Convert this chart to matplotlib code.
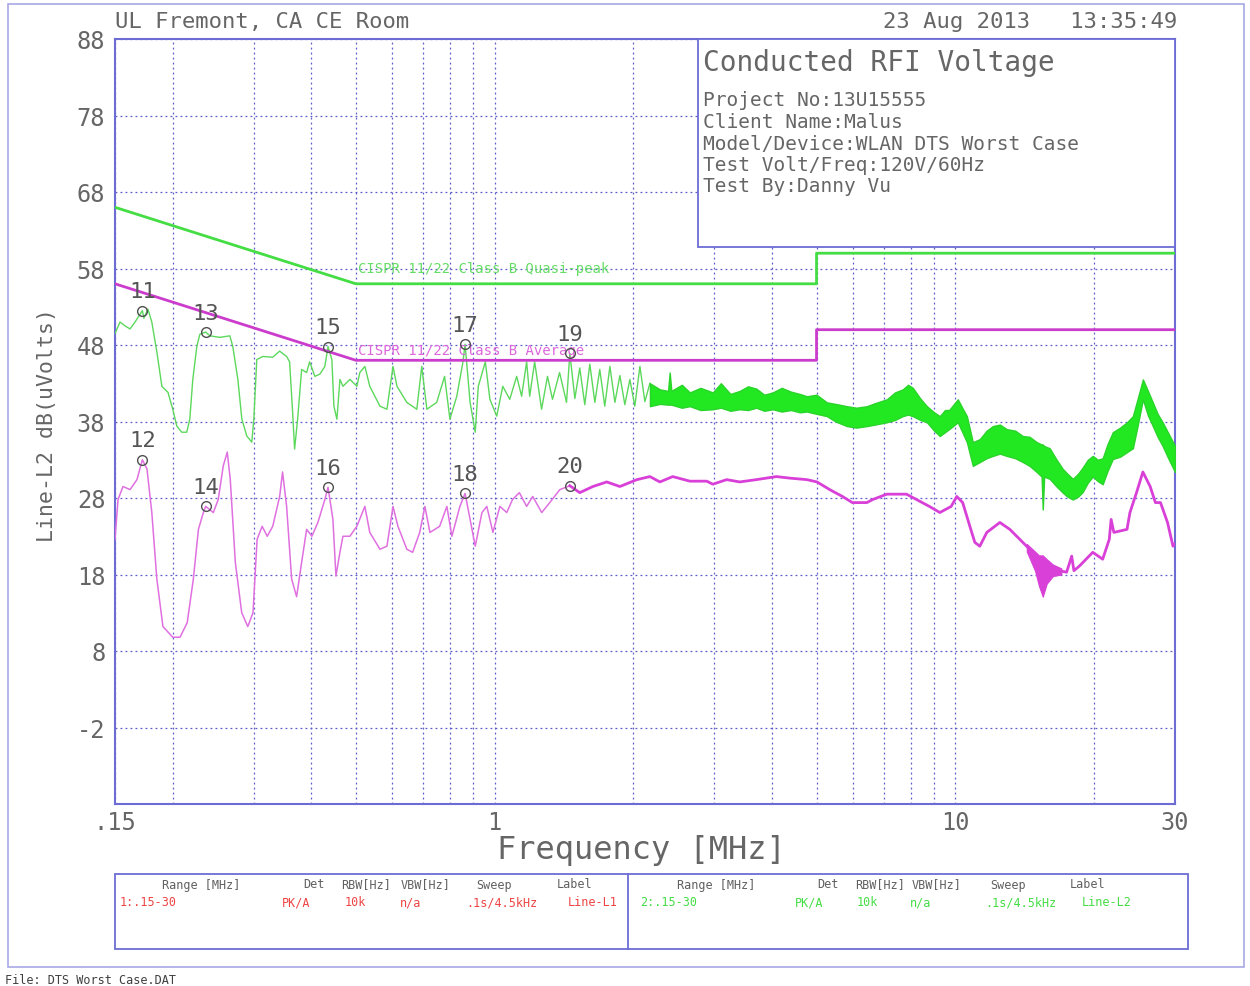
import matplotlib
matplotlib.use("Agg")
import matplotlib.pyplot as plt
from matplotlib.patches import Rectangle
from matplotlib.lines import Line2D

# ---------------------------------------------------------------- data
# CISPR 11/22 Class B limits (MHz, dBuV)
qp_f = [0.15, 0.5, 5.0, 5.0, 30.0]
qp_db = [66.0, 56.0, 56.0, 60.0, 60.0]
av_lim_f = [0.15, 0.5, 5.0, 5.0, 30.0]
av_lim_db = [56.0, 46.0, 46.0, 50.0, 50.0]

# Peak detector trace, Line-L2 (below 2.2 MHz)
pk_f = [0.150, 0.1538, 0.1577, 0.1617, 0.1658, 0.172, 0.1733, 0.1768, 0.1803,
        0.1849, 0.1896, 0.1955, 0.2002, 0.2043, 0.2094, 0.2147, 0.2180, 0.2213,
        0.2258, 0.2292, 0.236, 0.2410, 0.2533, 0.2663, 0.2703, 0.2772, 0.2828,
        0.2899, 0.2972, 0.3002, 0.3047, 0.3140, 0.3300, 0.3416, 0.3537, 0.3590,
        0.3645, 0.3681, 0.3737, 0.3813, 0.3909, 0.3968, 0.4074, 0.4177, 0.4282,
        0.435, 0.4435, 0.4480, 0.4548, 0.4617, 0.4687, 0.4853, 0.5025, 0.510,
        0.523, 0.536, 0.564, 0.584, 0.602, 0.614, 0.645, 0.678, 0.695, 0.713,
        0.749, 0.779, 0.800, 0.828, 0.854, 0.863, 0.885, 0.908, 0.922, 0.955,
        0.977, 1.011, 1.042, 1.079, 1.117, 1.145, 1.174, 1.192, 1.222, 1.265,
        1.303, 1.336, 1.384, 1.433, 1.457, 1.494, 1.531, 1.570, 1.610, 1.651,
        1.692, 1.735, 1.780, 1.825, 1.871, 1.918, 1.967, 2.016, 2.068, 2.120,
        2.174]
pk_db = [49.5, 51.0, 50.5, 50.1, 51.0, 52.5, 51.5, 52.7, 51.0,
         47.1, 42.6, 41.8, 39.6, 37.4, 36.6, 36.6, 38.3, 43.5,
         47.8, 49.4, 49.7, 49.2, 49.0, 49.2, 47.8, 43.5, 38.3,
         36.1, 35.3, 38.3, 46.1, 46.5, 46.4, 47.2, 46.5, 45.8,
         39.2, 34.4, 38.3, 44.8, 44.4, 45.8, 43.9, 44.2, 45.2,
         47.8, 46.1, 40.0, 38.3, 43.5, 42.6, 43.5, 42.6, 44.4,
         45.2, 42.6, 40.0, 39.6, 45.2, 42.6, 40.5, 39.6, 45.2, 39.6,
         40.5, 43.9, 38.3, 41.3, 45.8, 48.1, 40.5, 36.6, 42.6, 45.8,
         40.9, 38.7, 42.6, 40.9, 43.9, 41.3, 45.8, 41.3, 45.8, 39.6,
         43.9, 40.9, 44.4, 40.5, 46.9, 41.0, 45.0, 40.2, 45.5, 40.5,
         44.8, 40.0, 45.2, 40.5, 44.0, 40.2, 43.5, 40.0, 45.2, 40.6,
         43.0]

# Peak trace above 2.2 MHz: dense sweep band (upper / lower edge)
band_f = [2.174, 2.285, 2.38, 2.40, 2.42, 2.55, 2.654, 2.80, 2.977, 3.10,
          3.25, 3.407, 3.55, 3.70, 3.85, 4.018, 4.20, 4.40, 4.60, 4.764,
          5.0, 5.265, 5.5, 5.818, 6.1, 6.43, 6.7, 7.105, 7.4, 7.694,
          7.9, 8.09, 8.4, 8.68, 9.0, 9.26, 9.5, 9.7, 10.13, 10.4,
          10.6, 10.92, 11.31, 11.7, 12.07, 12.5, 12.94, 13.5, 14.02, 14.5,
          15.03, 15.40, 15.49, 15.60, 16.04, 16.6, 17.12, 17.5, 18.0, 18.5,
          18.92, 19.4, 19.89, 20.4, 20.9, 21.4, 21.98, 22.8, 23.6, 24.3,
          24.9, 25.55, 26.2, 26.85, 27.5, 28.2, 29.0, 30.0]
band_hi = [43.0, 42.2, 42.0, 44.4, 42.0, 42.8, 41.8, 42.4, 41.8, 43.0,
           41.6, 42.0, 42.6, 42.3, 41.5, 41.8, 42.4, 41.9, 41.6, 41.3,
           41.5, 40.5, 40.3, 40.0, 39.8, 40.0, 40.4, 40.9, 41.8, 42.2,
           42.8, 42.4, 41.0, 40.0, 39.2, 38.7, 39.5, 39.5, 40.9, 39.6,
           38.7, 35.3, 35.7, 36.8, 37.4, 37.6, 37.0, 36.8, 36.1, 36.0,
           35.3, 35.0, 35.0, 34.8, 34.5, 33.0, 31.8, 31.2, 30.5, 31.2,
           32.0, 33.0, 33.5, 33.0, 33.2, 35.0, 36.6, 37.2, 37.9, 38.7,
           41.0, 43.5, 42.0, 40.5, 39.0, 37.9, 36.5, 34.8]
band_lo = [40.0, 40.3, 40.2, 40.2, 40.2, 39.8, 40.0, 39.5, 39.6, 39.8,
           39.4, 39.6, 39.5, 39.8, 39.4, 39.6, 39.3, 39.5, 39.2, 39.3,
           39.0, 38.7, 38.0, 37.4, 37.2, 37.4, 37.6, 37.9, 38.2, 38.7,
           38.9, 38.7, 38.2, 37.9, 36.8, 36.1, 36.6, 37.0, 37.9, 36.4,
           35.3, 32.2, 32.7, 33.2, 33.5, 33.8, 33.5, 33.2, 32.7, 32.2,
           31.4, 30.8, 26.5, 30.8, 30.5, 29.5, 28.7, 28.2, 27.8, 28.2,
           28.8, 30.0, 30.8, 30.2, 29.8, 31.5, 33.1, 33.4, 34.0, 34.5,
           37.5, 40.9, 38.8, 37.4, 36.0, 34.8, 33.2, 31.4]

# Average detector trace, Line-L2
av_f = [0.150, 0.1523, 0.1561, 0.1617, 0.1674, 0.172, 0.1760, 0.1803, 0.1849,
        0.1906, 0.2002, 0.2076, 0.2152, 0.2219, 0.2276, 0.2333, 0.236, 0.2452,
        0.2513, 0.2577, 0.2629, 0.2669, 0.2737, 0.2826, 0.2913, 0.2990, 0.3052,
        0.3130, 0.3210, 0.3300, 0.3416, 0.3466, 0.3537, 0.3627, 0.3718, 0.3813,
        0.3909, 0.4013, 0.4135, 0.4282, 0.435, 0.4458, 0.4526, 0.4617, 0.4687,
        0.4853, 0.5025, 0.523, 0.536, 0.564, 0.584, 0.602, 0.617, 0.645, 0.664,
        0.688, 0.706, 0.724, 0.760, 0.788, 0.808, 0.841, 0.863, 0.885, 0.908,
        0.939, 0.962, 0.992, 1.027, 1.063, 1.094, 1.132, 1.174, 1.210, 1.266,
        1.318, 1.386, 1.457, 1.531, 1.635, 1.752, 1.871, 2.037, 2.174, 2.285,
        2.437, 2.654, 2.888, 2.977, 3.19, 3.407, 3.70, 4.09, 4.37, 4.764, 5.01,
        5.34, 5.69, 5.98, 6.43, 6.62, 7.105, 7.84, 8.24, 8.79, 9.26, 9.80,
        10.08, 10.38, 10.76, 11.03, 11.31, 11.71, 12.5, 13.14, 14.02, 14.73,
        15.49, 16.27, 17.45, 17.9, 18.1, 18.6, 19.89, 20.9, 21.6, 21.8, 22.1,
        23.6, 23.95, 24.75, 25.55, 26.5, 27.2, 27.9, 28.9, 29.7, 30.0]
av_db = [22.6, 27.8, 29.5, 29.1, 30.4, 33.0, 31.8, 26.1, 17.4,
         11.2, 9.8, 9.8, 11.7, 17.4, 23.9, 26.1, 26.9, 26.1,
         27.8, 32.2, 34.0, 30.4, 19.6, 13.0, 11.2, 13.0, 22.6,
         24.3, 23.0, 24.3, 28.2, 31.4, 26.9, 17.4, 15.1, 19.6,
         23.9, 23.0, 24.8, 27.8, 29.4, 25.2, 17.8, 20.9, 23.0,
         23.0, 24.3, 26.9, 23.5, 21.3, 21.7, 26.9, 24.3, 21.3, 20.9,
         23.5, 26.9, 23.5, 24.3, 26.9, 23.0, 26.9, 28.6, 25.2, 21.7,
         26.1, 26.9, 23.5, 26.9, 26.1, 27.8, 28.7, 26.9, 28.2, 26.1,
         27.4, 29.1, 29.6, 28.7, 29.5, 30.1, 29.5, 30.4, 30.8, 30.1,
         30.8, 30.2, 30.2, 29.8, 30.4, 30.1, 30.4, 30.8, 30.6, 30.4, 30.1,
         29.1, 28.2, 27.4, 27.4, 27.8, 28.5, 28.5, 27.8, 26.9, 26.1, 26.9,
         28.2, 27.4, 24.3, 22.2, 21.7, 23.5, 24.8, 23.9, 22.2, 20.9,
         18.5, 18.7, 18.3, 20.4, 18.5, 19.1, 20.9, 20.0, 22.6, 25.2, 23.5,
         23.9, 26.1, 28.7, 31.4, 29.5, 27.4, 27.4, 24.8, 21.7, 22.0]

# Average trace dense region near 15 MHz (upper / lower edge)
av_band_f = [14.3, 14.9, 15.2, 15.49, 15.8, 16.3, 17.0]
av_band_hi = [22.0, 21.0, 20.5, 20.5, 20.0, 19.3, 18.8]
av_band_lo = [21.0, 18.5, 16.5, 15.1, 16.8, 17.8, 18.0]

# Marker table
mk_id = ["11", "12", "13", "14", "15", "16", "17", "18", "19", "20"]
mk_f = [0.172, 0.172, 0.236, 0.236, 0.435, 0.435, 0.863, 0.863, 1.457, 1.457]
mk_db = [52.5, 33.0, 49.7, 26.9, 47.8, 29.4, 48.1, 28.6, 46.9, 29.6]

y_ticks = [-2, 8, 18, 28, 38, 48, 58, 68, 78, 88]
x_major = [0.15, 1, 10, 30]
x_major_lbl = [".15", "1", "10", "30"]
x_minor = [0.2, 0.3, 0.4, 0.5, 0.6, 0.7, 0.8, 0.9, 2, 3, 4, 5, 6, 7, 8, 9, 20]

info_title = "Conducted RFI Voltage"
info_lines = ["Project No:13U15555", "Client Name:Malus",
              "Model/Device:WLAN DTS Worst Case", "Test Volt/Freq:120V/60Hz",
              "Test By:Danny Vu"]

# ---------------------------------------------------------------- style
W, H = 1250, 987
MONO = "DejaVu Sans Mono"
FRAME = "#6c6cd4"
GRID = "#5c5cc8"
TXT = "#666666"
GREEN = "#22e822"
GREEN_THIN = "#5cd85c"
GREEN_LIM = "#44dd44"
MAG = "#d840d8"
MAG_THIN = "#e070e0"
MAG_LIM = "#cc3ccc"


def fx(px):
    return px / W


def fy(py):
    return 1 - py / H


fig = plt.figure(figsize=(12.5, 9.87), dpi=100)
fig.patch.set_facecolor("white")

ax = fig.add_axes([fx(115), fy(805), (1175 - 115) / W, (805 - 40) / H])
ax.set_xscale("log")
ax.set_xlim(0.15, 30)
ax.set_ylim(-12, 88)

for s in ax.spines.values():
    s.set_color(FRAME)
    s.set_linewidth(1.5)

ax.set_xticks(x_major)
ax.set_xticklabels(x_major_lbl)
ax.set_xticks(x_minor, minor=True)
ax.set_yticks(y_ticks)
ax.set_yticklabels([str(v) for v in y_ticks])
ax.tick_params(axis="both", which="both", length=0)
ax.tick_params(axis="y", pad=7, labelsize=17, labelcolor=TXT)
ax.tick_params(axis="x", pad=4, labelsize=17, labelcolor=TXT)
for lbl in ax.get_xticklabels() + ax.get_yticklabels():
    lbl.set_fontfamily(MONO)
ax.grid(True, which="both", axis="x", color=GRID, lw=0.9, ls=(0, (1.5, 2.5)))
ax.grid(True, which="major", axis="y", color=GRID, lw=0.9, ls=(0, (1.5, 2.5)))

# limit lines
ax.plot(qp_f, qp_db, color=GREEN_LIM, lw=2.0, zorder=4)
ax.plot(av_lim_f, av_lim_db, color=MAG_LIM, lw=2.0, zorder=4)
ax.text(0.506, 58.1, "CISPR 11/22 Class B Quasi-peak", color="#66dd66",
        fontsize=10, family=MONO, va="center", ha="left", zorder=4)
ax.text(0.506, 47.4, "CISPR 11/22 Class B Average", color="#dd66dd",
        fontsize=10, family=MONO, va="center", ha="left", zorder=4)

# measured traces
ax.plot(pk_f, pk_db, color=GREEN_THIN, lw=1.0, zorder=3)
ax.fill_between(band_f, band_lo, band_hi, color=GREEN, lw=1.0,
                edgecolor="#2ad42a", zorder=3)

split = 77  # average trace drawn heavier from 1.46 MHz upward
ax.plot(av_f[:split + 1], av_db[:split + 1], color=MAG_THIN, lw=1.1, zorder=3)
ax.plot(av_f[split:], av_db[split:], color=MAG, lw=2.0, zorder=3)
ax.fill_between(av_band_f, av_band_lo, av_band_hi, color=MAG, lw=0.8,
                edgecolor=MAG, zorder=3)

# markers with numbers
ax.plot(mk_f, mk_db, ls="none", marker="o", ms=7, mfc="none",
        mec="#505050", mew=1.0, zorder=5)
for lab, f, v in zip(mk_id, mk_f, mk_db):
    ax.annotate(lab, (f, v), xytext=(0, 14), textcoords="offset points",
                ha="center", va="center", fontsize=16, family=MONO,
                color="#555555", zorder=5)

# info box in upper right corner of the plot
ax.add_patch(Rectangle(((698 - 115) / 1060, (805 - 248) / 765),
                       (1175 - 698) / 1060, (248 - 40) / 765,
                       transform=ax.transAxes, facecolor="white",
                       edgecolor=FRAME, lw=1.3, zorder=6))
fig.text(fx(703), fy(63), info_title, fontsize=20, family=MONO, color=TXT,
         va="center", ha="left")
for i, line in enumerate(info_lines):
    fig.text(fx(703), fy(101 + 21.5 * i), line, fontsize=14, family=MONO,
             color=TXT, va="center", ha="left")

# header texts and axis titles
fig.text(fx(115), fy(22), "UL Fremont, CA CE Room", fontsize=16, family=MONO,
         color=TXT, va="center", ha="left")
fig.text(fx(1177), fy(22), "23 Aug 2013   13:35:49", fontsize=16, family=MONO,
         color=TXT, va="center", ha="right")
fig.text(fx(641), fy(851), "Frequency [MHz]", fontsize=23, family=MONO,
         color=TXT, va="center", ha="center")
fig.text(fx(47), fy(425), "Line-L2 dB(uVolts)", fontsize=15.5, family=MONO,
         color=TXT, va="center", ha="center", rotation=90)

# outer frame
fig.add_artist(Rectangle((fx(8), fy(968)), fx(1244) - fx(8), fy(5) - fy(968),
                         transform=fig.transFigure, fill=False,
                         edgecolor="#a8a8e4", lw=1.2))

# sweep settings table
fig.add_artist(Rectangle((fx(115), fy(950)), fx(1188) - fx(115),
                         fy(875) - fy(950), transform=fig.transFigure,
                         fill=False, edgecolor=FRAME, lw=1.3))
fig.add_artist(Line2D([fx(628), fx(628)], [fy(875), fy(950)],
                      transform=fig.transFigure, color=FRAME, lw=1.3))

hdr_y, row_y = 885, 903
left_hdr = [(162, "Range [MHz]"), (303, "Det"), (341, "RBW[Hz]"),
            (401, "VBW[Hz]"), (476, "Sweep"), (557, "Label")]
left_row = [(120, "1:.15-30"), (282, "PK/A"), (345, "10k"), (400, "n/a"),
            (466, ".1s/4.5kHz"), (568, "Line-L1")]
right_hdr = [(677, "Range [MHz]"), (817, "Det"), (855, "RBW[Hz]"),
             (912, "VBW[Hz]"), (990, "Sweep"), (1070, "Label")]
right_row = [(640, "2:.15-30"), (795, "PK/A"), (857, "10k"), (910, "n/a"),
             (985, ".1s/4.5kHz"), (1082, "Line-L2")]
for x, t in left_hdr + right_hdr:
    fig.text(fx(x), fy(hdr_y), t, fontsize=8.5, family=MONO, color="#606060",
             va="center", ha="left")
for x, t in left_row:
    fig.text(fx(x), fy(row_y), t, fontsize=8.5, family=MONO, color="#ee4444",
             va="center", ha="left")
for x, t in right_row:
    fig.text(fx(x), fy(row_y), t, fontsize=8.5, family=MONO, color="#44dd44",
             va="center", ha="left")

fig.text(fx(5), fy(981), "File: DTS Worst Case.DAT", fontsize=8.5, family=MONO,
         color="#404040", va="center", ha="left")

fig.savefig("out.png", dpi=100, facecolor="white")
